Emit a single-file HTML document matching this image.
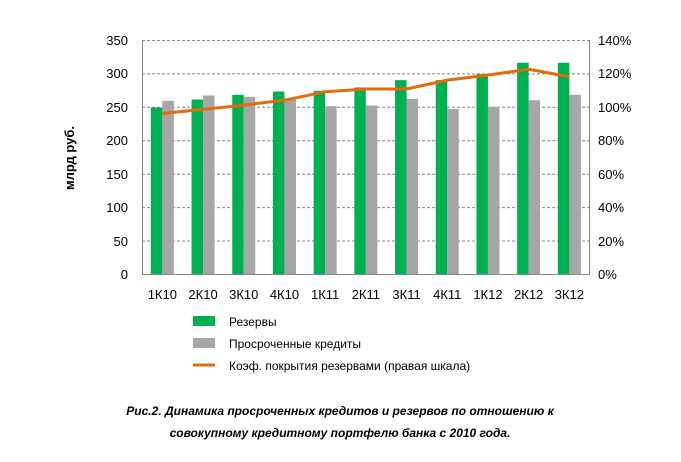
<!DOCTYPE html>
<html><head><meta charset="utf-8"><style>body{margin:0;background:#fff}</style></head><body>
<svg width="681" height="457" xmlns="http://www.w3.org/2000/svg" font-family="Liberation Sans, sans-serif">
<g stroke="#888" stroke-dasharray="3,2" stroke-width="1">
<line x1="142" x2="590" y1="40.5" y2="40.5"/><line x1="142" x2="590" y1="73.9" y2="73.9"/><line x1="142" x2="590" y1="107.3" y2="107.3"/><line x1="142" x2="590" y1="140.8" y2="140.8"/><line x1="142" x2="590" y1="174.2" y2="174.2"/><line x1="142" x2="590" y1="207.6" y2="207.6"/><line x1="142" x2="590" y1="241" y2="241"/>
</g>
<g id="bars"></g>
<line x1="142.5" x2="142.5" y1="40" y2="274" stroke="#888"/>
<line x1="589.5" x2="589.5" y1="40" y2="274" stroke="#888"/>
<line x1="142" x2="590" y1="274.5" y2="274.5" stroke="#888"/>
<g font-size="13" fill="#000" text-anchor="end">
<text x="128" y="45">350</text><text x="128" y="78">300</text><text x="128" y="112">250</text><text x="128" y="145">200</text><text x="128" y="179">150</text><text x="128" y="212">100</text><text x="128" y="246">50</text><text x="128" y="279">0</text>
</g>
<g font-size="13" fill="#000" text-anchor="start">
<text x="598" y="45">140%</text><text x="598" y="78">120%</text><text x="598" y="112">100%</text><text x="598" y="145">80%</text><text x="598" y="179">60%</text><text x="598" y="212">40%</text><text x="598" y="246">20%</text><text x="598" y="279">0%</text>
</g>
<text transform="translate(74,158) rotate(-90)" font-size="13" font-weight="bold" text-anchor="middle">млрд руб.</text>
<g id="lbl" font-size="13" text-anchor="middle"></g>
<polyline id="ln" fill="none" stroke="#E36C0A" stroke-width="3" stroke-linejoin="round"/>
<rect x="193" y="316" width="22" height="10" fill="#00B050"/>
<text x="229" y="326" font-size="12">Резервы</text>
<rect x="193" y="338" width="22" height="10" fill="#A6A6A6"/>
<text x="229" y="348" font-size="12">Просроченные кредиты</text>
<line x1="193" x2="215" y1="365" y2="365" stroke="#E36C0A" stroke-width="3"/>
<text x="229" y="370" font-size="12">Коэф. покрытия резервами (правая шкала)</text>
<text x="340" y="415" font-size="12" font-weight="bold" font-style="italic" text-anchor="middle">Рис.2. Динамика просроченных кредитов и резервов по отношению к</text>
<text x="340" y="437" font-size="12" font-weight="bold" font-style="italic" text-anchor="middle">совокупному кредитному портфелю банка с 2010 года.</text>
<script>
var g=[249,261,268,273,274,279,290,290,299,316,316],r=[259,267,265,263,251,252,262,247,250,260,268],
p=[96,98.5,101,104,109,110.7,110.7,116,119,122.5,118],n=['1К10','2К10','3К10','4К10','1К11','2К11','3К11','4К11','1К12','2К12','3К12'];
var ns='http://www.w3.org/2000/svg',b=document.getElementById('bars'),l=document.getElementById('lbl'),pts=[];
for(var i=0;i<11;i++){var c=142+40.7*(i+0.5);
function R(x,v,f){var e=document.createElementNS(ns,'rect');var h=v*234/350;e.setAttribute('x',x);e.setAttribute('y',274-h);e.setAttribute('width',11.5);e.setAttribute('height',h);e.setAttribute('fill',f);b.appendChild(e);}
R(c-11.5,g[i],'#00B050');R(c,r[i],'#A6A6A6');
var t=document.createElementNS(ns,'text');t.setAttribute('x',c);t.setAttribute('y',299);t.textContent=n[i];l.appendChild(t);
pts.push(c+','+(274-p[i]*234/140));}
document.getElementById('ln').setAttribute('points',pts.join(' '));
</script>
</svg>
</body></html>
